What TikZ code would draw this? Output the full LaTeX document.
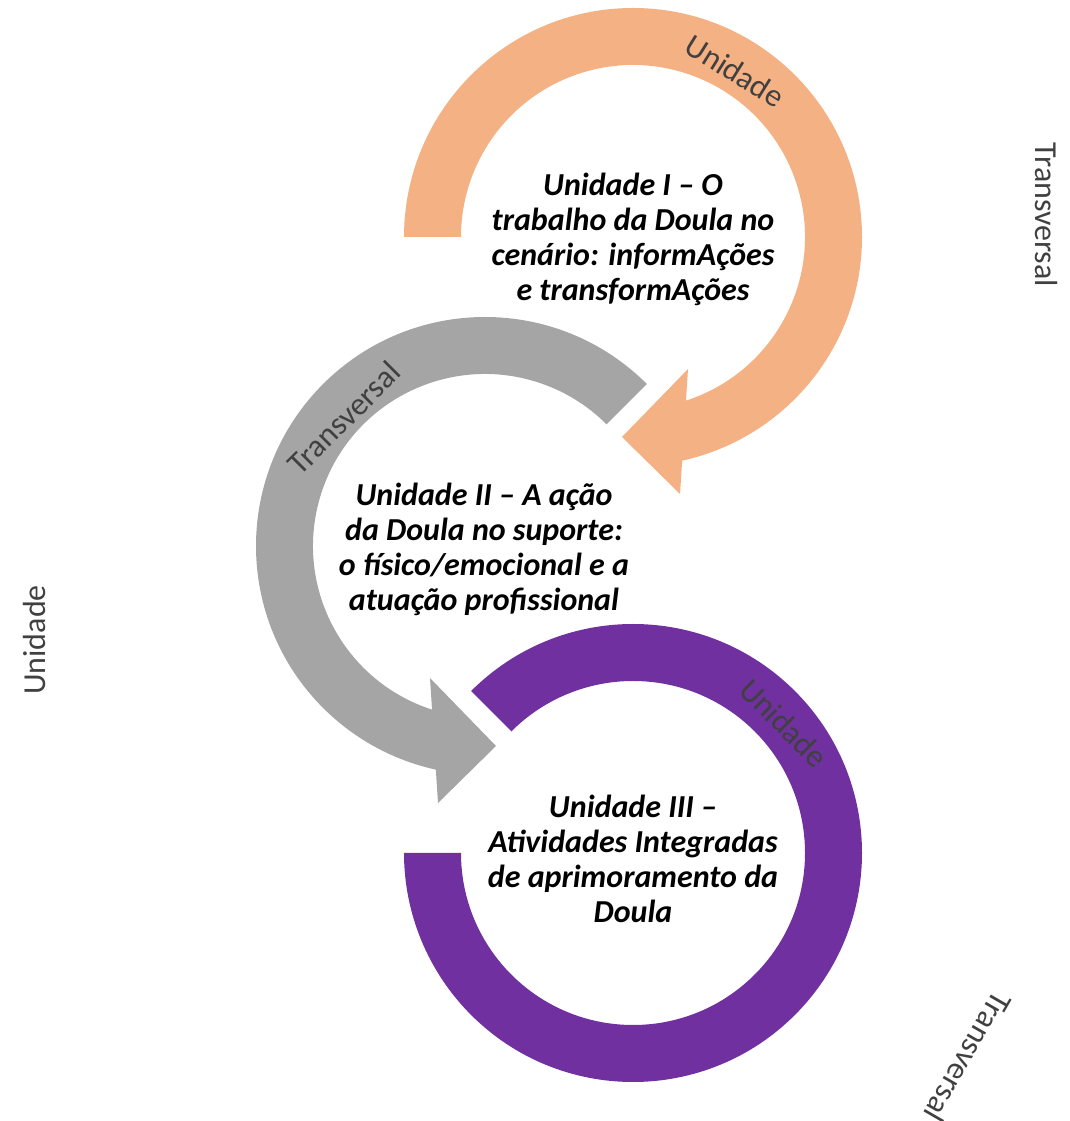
\documentclass[tikz,border=0pt]{standalone}
\usepackage{fontspec}
\setmainfont{Carlito}
\definecolor{orng}{HTML}{F4B183}
\definecolor{gry}{HTML}{A5A5A5}
\definecolor{purp}{HTML}{7030A0}
\definecolor{lbl}{HTML}{404040}
\begin{document}
\begin{tikzpicture}[x=0.75pt,y=0.75pt,
  maintext/.style={font=\fontsize{24}{26.3}\selectfont\bfseries\itshape, align=center, inner sep=0pt},
  ringlabel/.style={font=\fontsize{24}{28}\selectfont, text=lbl, inner sep=0pt}]
\useasboundingbox (0,0) rectangle (1070,1121);
% orange circular arrow
\begin{scope}[shift={(633,884)}]
\fill[orng] (180:229) arc[start angle=180,end angle=-77.6,radius=229]
  -- (47,-257) -- (-11,-200) -- (55,-132) -- (-72.06:172)
  arc[start angle=-72.06,end angle=180,radius=172] -- cycle;
\end{scope}
% grey circular arrow
\begin{scope}[shift={(485,575)}]
\fill[gry] (45:229) arc[start angle=45,end angle=257.6,radius=229]
  -- (-47,-257) -- (11,-200) -- (-55,-132) -- (252.06:172)
  arc[start angle=252.06,end angle=45,radius=172] -- cycle;
\end{scope}
% purple ring
\begin{scope}[shift={(633,268)}]
\fill[purp] (135:229) arc[start angle=135,end angle=-180,radius=229]
  -- (-180:172) arc[start angle=-180,end angle=135,radius=172] -- cycle;
\end{scope}
% main texts
\node[maintext] (t1) at (633,881.5) {Unidade I – O\\trabalho da Doula no\\cenário: informAções\\e transformAções};
\node[maintext] (t2) at (484,571.5) {Unidade II – A ação\\da Doula no suporte:\\o físico/emocional e a\\atuação profissional};
\node[maintext] (t3) at (633,262.5) {Unidade III –\\Atividades Integradas\\de aprimoramento da\\Doula};
% ring labels
\node[ringlabel, rotate=-32] (l1) at (735,1050) {Unidade};
\node[ringlabel, rotate=45] (l2) at (344,703) {Transversal};
\node[ringlabel, rotate=-45] (l3) at (784,398) {Unidade};
\node[ringlabel, rotate=-90] (l4) at (1046,906) {Transversal};
\node[ringlabel, rotate=90] (l5) at (35,481) {Unidade};
\node[ringlabel, rotate=-120] (l6) at (968,64) {Transversal};
\end{tikzpicture}
\end{document}
